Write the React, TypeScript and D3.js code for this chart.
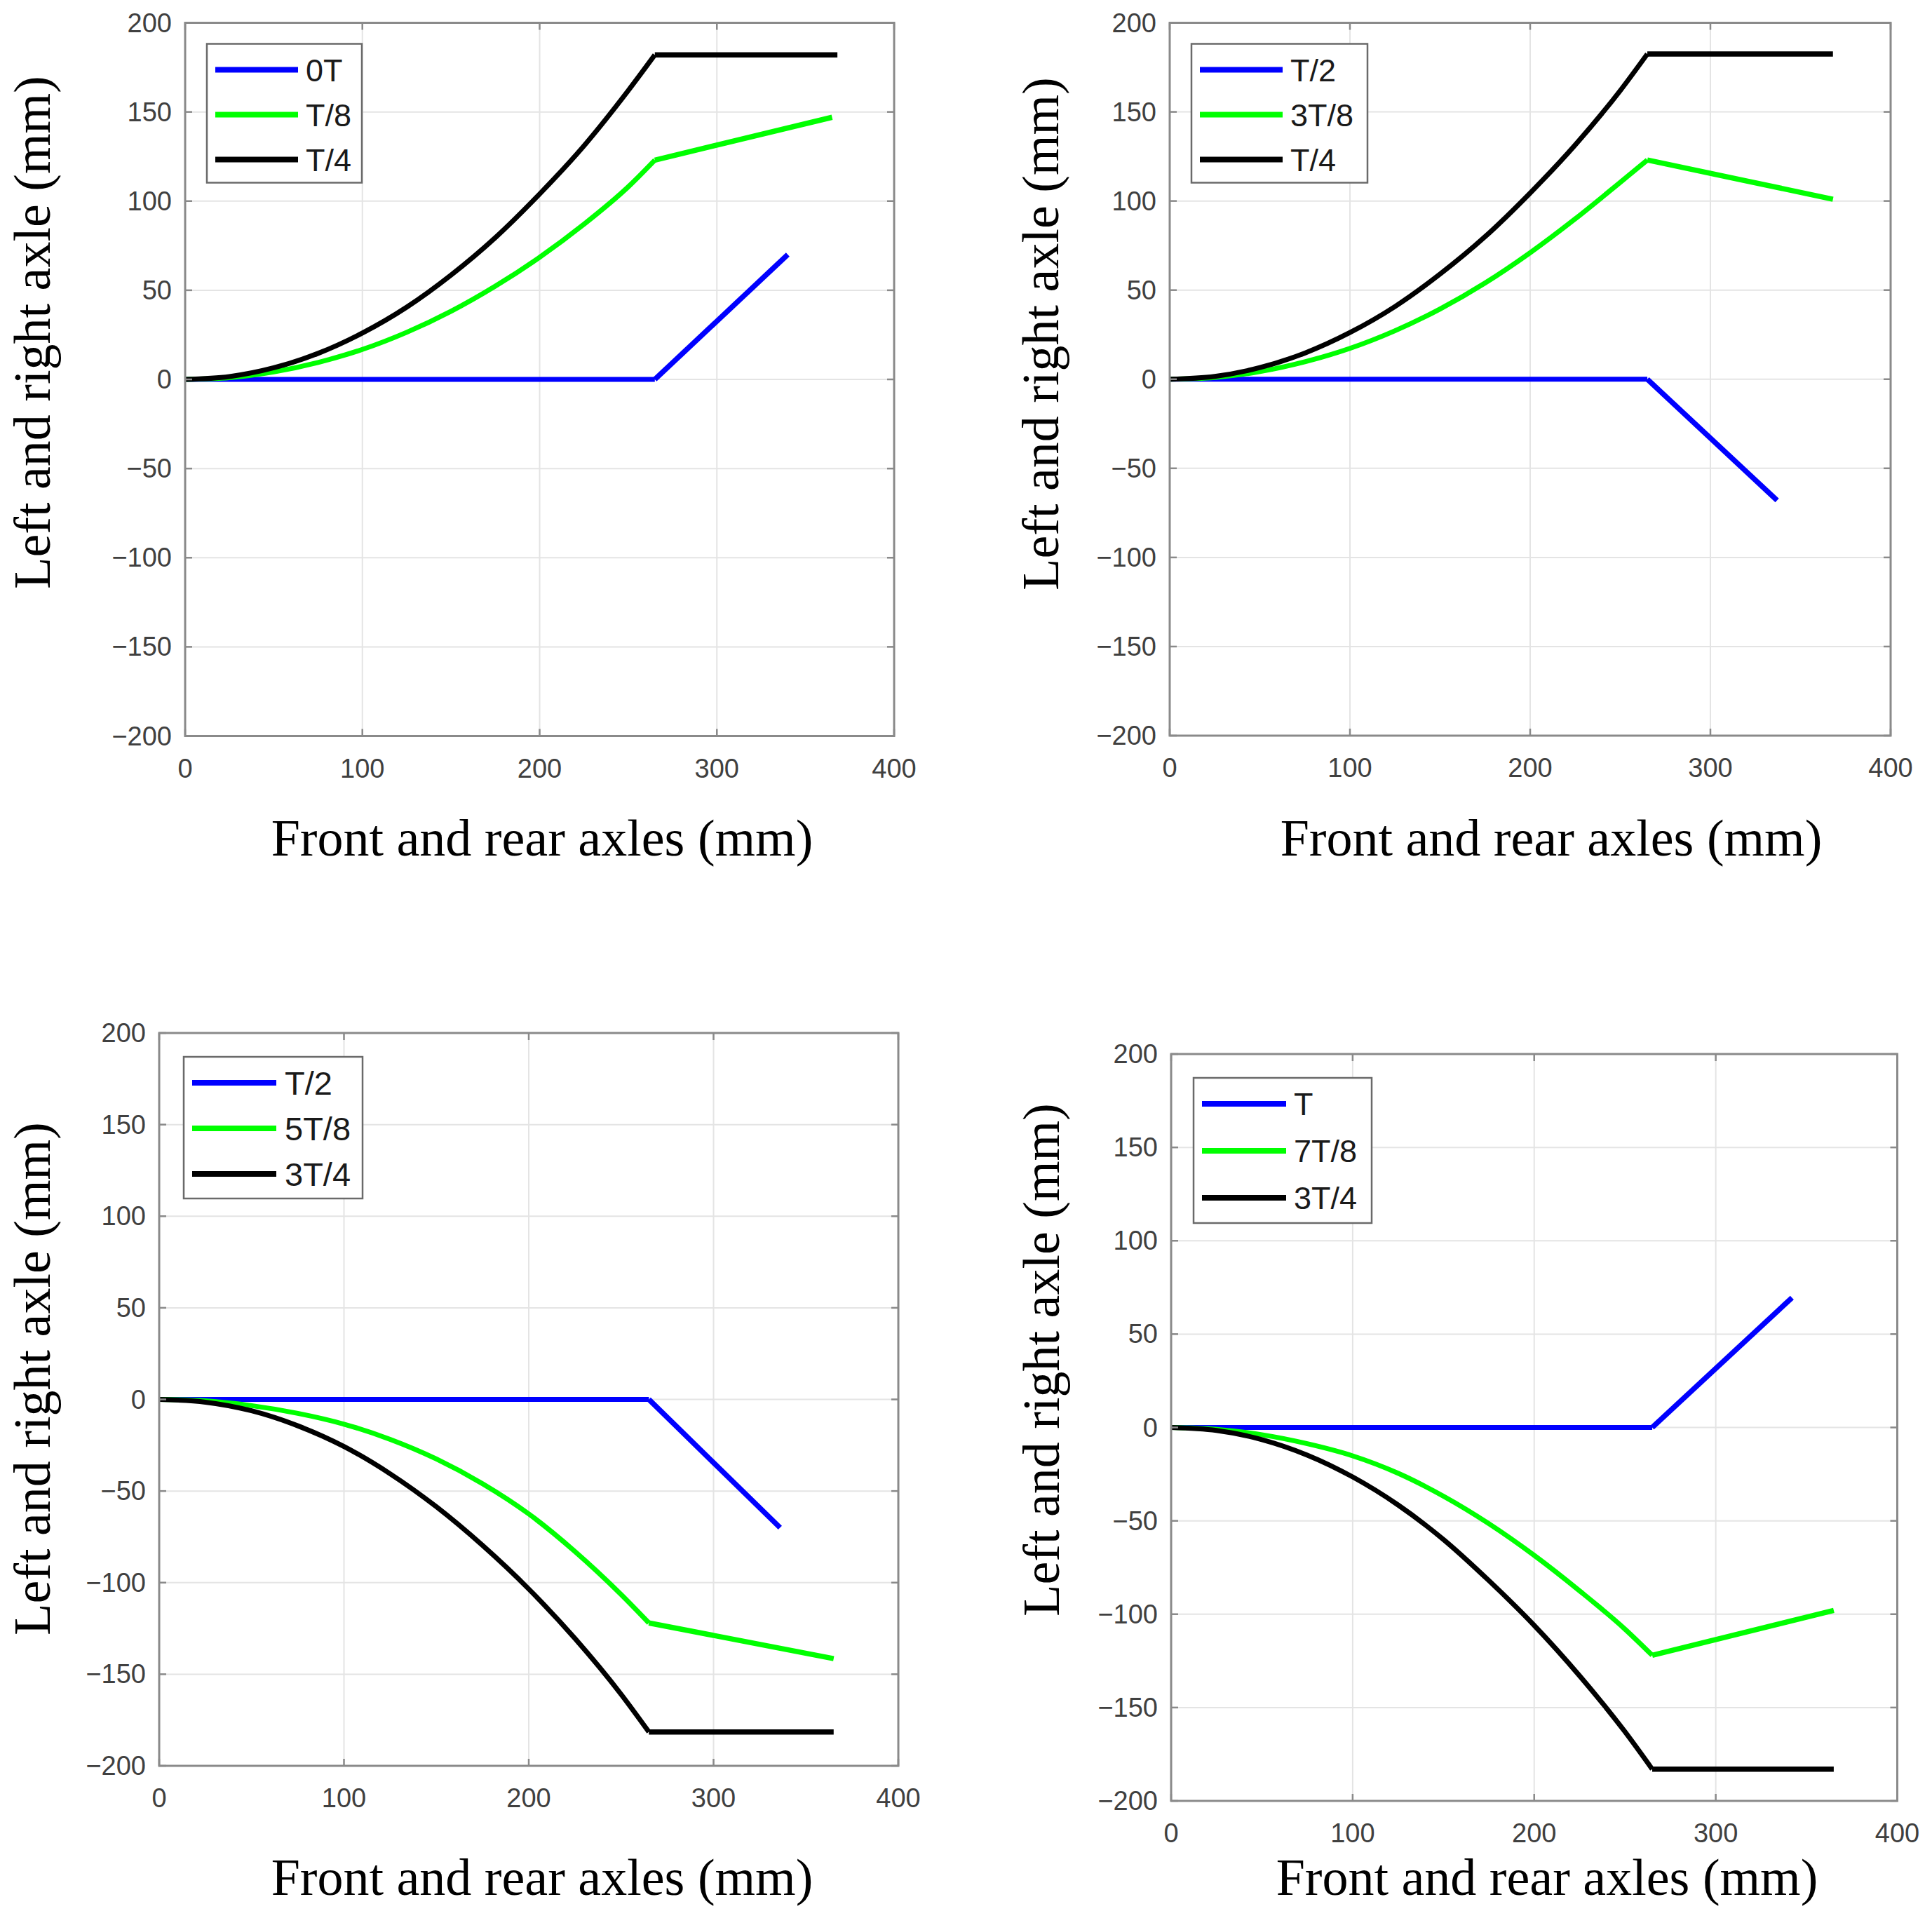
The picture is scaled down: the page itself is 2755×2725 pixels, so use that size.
import React from 'react';
import * as d3 from 'd3';

// Axis ticks shared by all four panels
const xTicks = [0, 100, 200, 300, 400];
const yTicks = [-200, -150, -100, -50, 0, 50, 100, 150, 200];

// x positions along the curved part (mm); the knee sits at 265
const riseX = [0, 25, 50, 75, 100, 125, 150, 175, 200, 225, 250, 265];
const kneeX = 265;

// Panel 1: 0T, T/8, T/4
const p1Labels = ['0T', 'T/8', 'T/4'];
const p1Blue = { x: [0, 265, 340], y: [0, 0, 70] };
const p1Green = { x: [...riseX, 365], y: [0, 1, 4.2, 9.5, 16.8, 26.4, 38.2, 52.3, 68.5, 87, 108, 123, 147] };
const p1Black = { x: [...riseX, 368], y: [0, 1.6, 6.5, 14.6, 26, 40.5, 58.5, 79.5, 104, 131, 162, 182, 182] };

// Panel 2: T/2, 3T/8, T/4
const p2Labels = ['T/2', '3T/8', 'T/4'];
const p2Blue = { x: [0, 265, 337], y: [0, 0, -68] };
const p2Green = { x: [...riseX, 368], y: [0, 1, 4.3, 9.8, 17.3, 27.2, 39.4, 54, 71, 90, 110.5, 123, 101] };
const p2Black = { x: [...riseX, 368], y: [0, 1.6, 6.5, 14.7, 26.2, 40.8, 59, 80, 104.5, 131.5, 162, 182.5, 182.5] };

// Panel 3: T/2, 5T/8, 3T/4
const p3Labels = ['T/2', '5T/8', '3T/4'];
const p3Blue = { x: [0, 265, 336], y: [0, 0, -70] };
const p3Green = { x: [...riseX, 365], y: [0, -0.8, -3.4, -7.6, -13.5, -21.8, -32.5, -46, -62.5, -83, -106.5, -122, -141.5] };
const p3Black = { x: [...riseX, 365], y: [0, -1.5, -6.2, -14.4, -25.7, -40.6, -58.6, -79.7, -103.5, -130.5, -161, -181.5, -181.5] };

// Panel 4: T, 7T/8, 3T/4
const p4Labels = ['T', '7T/8', '3T/4'];
const p4Blue = { x: [0, 265, 342], y: [0, 0, 69.5] };
const p4Green = { x: [...riseX, 365], y: [0, -1, -3.9, -8.7, -15.2, -24.5, -36.8, -51.5, -68.5, -87.5, -108, -122, -98] };
const p4Black = { x: [...riseX, 365], y: [0, -1.6, -6.5, -14.8, -26.5, -41.5, -60, -82, -106, -133, -163, -183, -183] };

const colors = ['#0000ff', '#00ff00', '#000000'];

const SANS = '"Liberation Sans", Arial, sans-serif';
const SERIF = '"Liberation Serif", "Times New Roman", serif';

type Series = { x: number[]; y: number[] };

interface Layout {
  left: number; top: number; right: number; bottom: number;
  legendDx: number; legendDy: number;
  legendW: number; legendH: number; firstRow: number; rowGap: number;
  legendFont: number; lineEnd: number; labelDx: number;
  yTitleX: number; yTitleY: number;
  xTitleX: number; xTitleY: number;
}

const layouts: Layout[] = [
  { left: 264, top: 32.5, right: 1275, bottom: 1049.5, legendDx: 31, legendDy: 30, legendW: 221, legendH: 198, firstRow: 37, rowGap: 64, legendFont: 45, lineEnd: 130, labelDx: 141, yTitleX: 71, yTitleY: 474, xTitleX: 773, xTitleY: 1220 },
  { left: 1668, top: 32.5, right: 2696, bottom: 1049, legendDx: 31, legendDy: 30, legendW: 251, legendH: 198, firstRow: 37, rowGap: 64, legendFont: 45, lineEnd: 130, labelDx: 141, yTitleX: 1509, yTitleY: 476, xTitleX: 2212, xTitleY: 1220 },
  { left: 227, top: 1473, right: 1281, bottom: 2518, legendDx: 35, legendDy: 34, legendW: 255, legendH: 202, firstRow: 37, rowGap: 65, legendFont: 47, lineEnd: 132, labelDx: 144, yTitleX: 71, yTitleY: 1966, xTitleX: 773, xTitleY: 2702 },
  { left: 1670, top: 1503, right: 2705.5, bottom: 2568, legendDx: 32, legendDy: 34, legendW: 254, legendH: 207, firstRow: 37, rowGap: 67, legendFont: 45, lineEnd: 132, labelDx: 143, yTitleX: 1510, yTitleY: 1939, xTitleX: 2206, xTitleY: 2702 },
];

const Panel = ({ layout, series, labels }: { layout: Layout; series: Series[]; labels: string[] }) => {
  const { left, top, right, bottom } = layout;
  const xScale = d3.scaleLinear().domain([0, 400]).range([left, right]);
  const yScale = d3.scaleLinear().domain([-200, 200]).range([bottom, top]);
  const smooth = d3.line<[number, number]>().x(d => xScale(d[0])).y(d => yScale(d[1])).curve(d3.curveMonotoneX);
  const straight = d3.line<[number, number]>().x(d => xScale(d[0])).y(d => yScale(d[1]));
  const tickLen = 10;
  const axisColor = '#8a8a8a';

  const lgX = left + layout.legendDx;
  const lgY = top + layout.legendDy;

  return (
    <g>
      {/* grid */}
      {xTicks.slice(1, -1).map(t => (
        <line key={'gx' + t} x1={xScale(t)} x2={xScale(t)} y1={top} y2={bottom} stroke="#e4e4e4" strokeWidth={2} />
      ))}
      {yTicks.slice(1, -1).map(t => (
        <line key={'gy' + t} x1={left} x2={right} y1={yScale(t)} y2={yScale(t)} stroke="#e4e4e4" strokeWidth={2} />
      ))}

      {/* data lines: smooth curve up to the knee, straight segment after it */}
      {series.map((s, i) => {
        const pts = s.x.map((v, j) => [v, s.y[j]] as [number, number]);
        const head = pts.filter(p => p[0] <= kneeX);
        const tail = pts.filter(p => p[0] >= kneeX);
        return (
          <g key={'s' + i}>
            <path d={smooth(head) || ''} fill="none" stroke={colors[i]} strokeWidth={7} strokeLinejoin="round" />
            <path d={straight(tail) || ''} fill="none" stroke={colors[i]} strokeWidth={7.5} strokeLinejoin="round" />
          </g>
        );
      })}

      {/* ticks on all four sides */}
      {xTicks.map(t => (
        <g key={'tx' + t}>
          <line x1={xScale(t)} x2={xScale(t)} y1={bottom} y2={bottom - tickLen} stroke={axisColor} strokeWidth={2.5} />
          <line x1={xScale(t)} x2={xScale(t)} y1={top} y2={top + tickLen} stroke={axisColor} strokeWidth={2.5} />
          <text x={xScale(t)} y={bottom + 59} textAnchor="middle" fontFamily={SANS} fontSize={38} fill="#404040">
            {t}
          </text>
        </g>
      ))}
      {yTicks.map(t => (
        <g key={'ty' + t}>
          <line x1={left} x2={left + tickLen} y1={yScale(t)} y2={yScale(t)} stroke={axisColor} strokeWidth={2.5} />
          <line x1={right} x2={right - tickLen} y1={yScale(t)} y2={yScale(t)} stroke={axisColor} strokeWidth={2.5} />
          <text x={left - 19} y={yScale(t) + 13} textAnchor="end" fontFamily={SANS} fontSize={38} fill="#404040">
            {t < 0 ? '\u2212' + Math.abs(t) : t}
          </text>
        </g>
      ))}

      {/* axes box */}
      <rect x={left} y={top} width={right - left} height={bottom - top} fill="none" stroke={axisColor} strokeWidth={3} />

      {/* legend */}
      <rect x={lgX} y={lgY} width={layout.legendW} height={layout.legendH} fill="#ffffff" stroke="#6a6a6a" strokeWidth={2.5} />
      {labels.map((lab, i) => {
        const ry = lgY + layout.firstRow + i * layout.rowGap;
        return (
          <g key={'lg' + i}>
            <line x1={lgX + 12} x2={lgX + layout.lineEnd} y1={ry} y2={ry} stroke={colors[i]} strokeWidth={8} />
            <text x={lgX + layout.labelDx} y={ry + layout.legendFont * 0.36} fontFamily={SANS} fontSize={layout.legendFont} fill="#1a1a1a">
              {lab}
            </text>
          </g>
        );
      })}

      {/* axis titles */}
      <text x={layout.xTitleX} y={layout.xTitleY} textAnchor="middle" fontFamily={SERIF} fontSize={74} fill="#000">
        Front and rear axles (mm)
      </text>
      <text
        transform={`translate(${layout.yTitleX},${layout.yTitleY}) rotate(-90)`}
        textAnchor="middle"
        fontFamily={SERIF}
        fontSize={74}
        fill="#000"
      >
        Left and right axle (mm)
      </text>
    </g>
  );
};

export default function App() {
  const panels = [
    { series: [p1Blue, p1Green, p1Black], labels: p1Labels },
    { series: [p2Blue, p2Green, p2Black], labels: p2Labels },
    { series: [p3Blue, p3Green, p3Black], labels: p3Labels },
    { series: [p4Blue, p4Green, p4Black], labels: p4Labels },
  ];
  return (
    <svg
      width={2755}
      height={2725}
      style={{ position: 'absolute', left: 0, top: 0, background: '#fff' }}
    >
      <rect x={0} y={0} width={2755} height={2725} fill="#fff" />
      {panels.map((p, i) => (
        <Panel key={i} layout={layouts[i]} series={p.series} labels={p.labels} />
      ))}
    </svg>
  );
}
